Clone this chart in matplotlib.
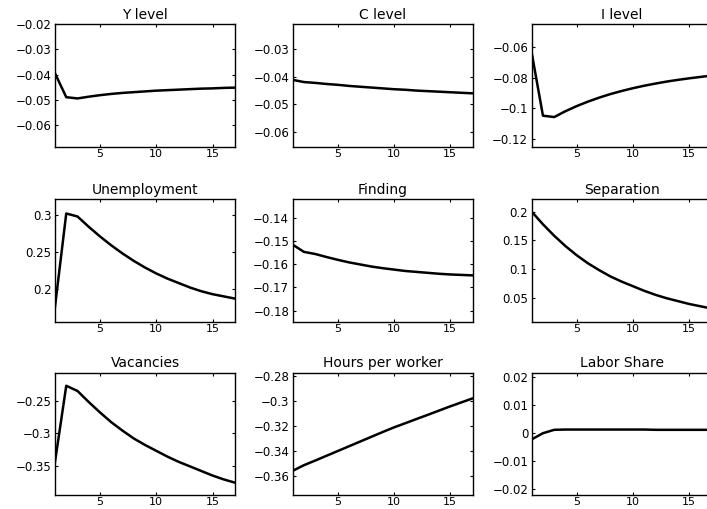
import numpy as np
import matplotlib
matplotlib.use('Agg')
import matplotlib.pyplot as plt
from matplotlib.ticker import FuncFormatter

periods = [1, 2, 3, 4, 5, 6, 7, 8, 9, 10, 11, 12, 13, 14, 15, 16, 17]

y_level = [-0.0395, -0.0490, -0.0495, -0.0488, -0.0482, -0.0477, -0.0473, -0.0470, -0.0467,
           -0.0464, -0.0462, -0.0460, -0.0458, -0.0456, -0.0455, -0.0453, -0.0452]
c_level = [-0.0412, -0.0420, -0.0423, -0.0427, -0.0430, -0.0434, -0.0437, -0.0440, -0.0443,
           -0.0446, -0.0448, -0.0451, -0.0453, -0.0455, -0.0457, -0.0459, -0.0461]
i_level = [-0.0640, -0.1047, -0.1056, -0.1018, -0.0985, -0.0956, -0.0930, -0.0907, -0.0887,
           -0.0869, -0.0853, -0.0839, -0.0826, -0.0815, -0.0805, -0.0796, -0.0787]
unemployment = [0.176, 0.302, 0.298, 0.284, 0.271, 0.259, 0.248, 0.238, 0.229,
                0.221, 0.214, 0.208, 0.202, 0.197, 0.193, 0.190, 0.187]
finding = [-0.1516, -0.1547, -0.1556, -0.1569, -0.1581, -0.1592, -0.1601, -0.1610, -0.1617,
           -0.1623, -0.1629, -0.1633, -0.1637, -0.1641, -0.1644, -0.1646, -0.1648]
separation = [0.200, 0.178, 0.158, 0.140, 0.124, 0.110, 0.098, 0.087, 0.078,
              0.070, 0.062, 0.055, 0.049, 0.044, 0.039, 0.035, 0.031]
vacancies = [-0.344, -0.227, -0.235, -0.252, -0.268, -0.283, -0.296, -0.308, -0.318,
             -0.327, -0.336, -0.344, -0.351, -0.358, -0.365, -0.371, -0.376]
hours = [-0.3560, -0.3515, -0.3478, -0.3440, -0.3402, -0.3364, -0.3326, -0.3288, -0.3250,
         -0.3213, -0.3180, -0.3146, -0.3113, -0.3079, -0.3045, -0.3013, -0.2981]
labor_share = [-0.0023, -0.0001, 0.0011, 0.0012, 0.0012, 0.0012, 0.0012, 0.0012, 0.0012,
               0.0012, 0.0012, 0.0011, 0.0011, 0.0011, 0.0011, 0.0011, 0.0011]

titles = ['Y level', 'C level', 'I level',
          'Unemployment', 'Finding', 'Separation',
          'Vacancies', 'Hours per worker', 'Labor Share']
series = [y_level, c_level, i_level, unemployment, finding, separation,
          vacancies, hours, labor_share]
ylims = [(-0.0687, -0.0200), (-0.0655, -0.0210), (-0.1248, -0.0455),
         (0.1558, 0.3212), (-0.1847, -0.1321), (0.0081, 0.2216),
         (-0.3951, -0.2069), (-0.3754, -0.2776), (-0.0221, 0.0214)]
yticks = [[-0.06, -0.05, -0.04, -0.03, -0.02],
          [-0.06, -0.05, -0.04, -0.03],
          [-0.12, -0.1, -0.08, -0.06],
          [0.2, 0.25, 0.3],
          [-0.18, -0.17, -0.16, -0.15, -0.14],
          [0.05, 0.1, 0.15, 0.2],
          [-0.35, -0.3, -0.25],
          [-0.36, -0.34, -0.32, -0.3, -0.28],
          [-0.02, -0.01, 0, 0.01, 0.02]]
xticks = [5, 10, 15]

plt.rcParams['font.family'] = ['DejaVu Sans']

fig = plt.figure(figsize=(7.07, 5.09), dpi=100)

W, H = 707.0, 509.0
col_left = [55, 292.7, 531.7]
row_top = [24.3, 199.3, 372.7]
ax_w, ax_h = 180, 122.4

fmt = FuncFormatter(lambda v, p: ('%g' % v).replace('-', '\u2212'))

for k in range(9):
    r, c = divmod(k, 3)
    ax = fig.add_axes([col_left[c] / W, 1 - (row_top[r] + ax_h) / H, ax_w / W, ax_h / H])
    ax.plot(periods, series[k], color='black', linewidth=1.8)
    ax.set_xlim(1, 17)
    ax.set_ylim(*ylims[k])
    ax.set_xticks(xticks)
    ax.set_yticks(yticks[k])
    ax.yaxis.set_major_formatter(fmt)
    ax.tick_params(direction='in', length=2.5, width=0.8, top=True, right=True,
                   labelsize=8.5)
    ax.tick_params(axis='x', pad=1.5, labelsize=8)
    ax.tick_params(axis='y', pad=2.5)
    for s in ax.spines.values():
        s.set_linewidth(1.0)
    ax.set_title(titles[k], fontsize=10, pad=4)

fig.savefig('out.png', dpi=100)
